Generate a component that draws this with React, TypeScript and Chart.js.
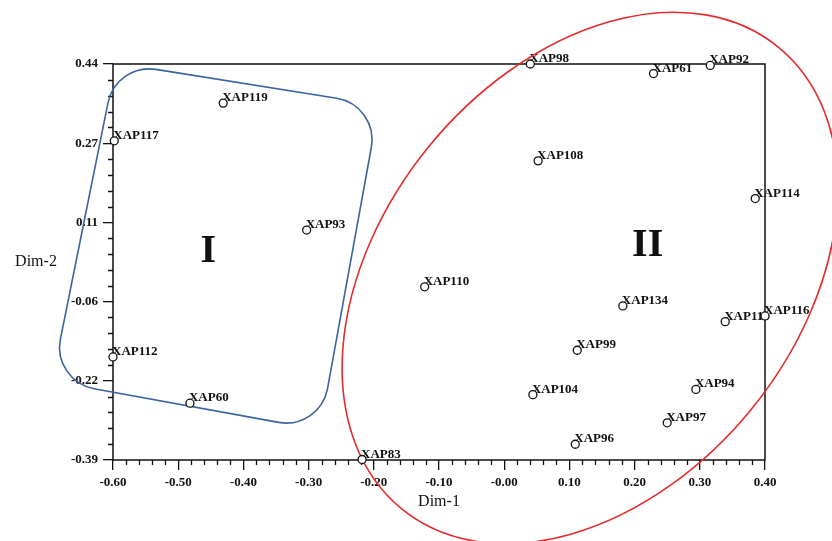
import { useEffect, useRef } from "react";
import { Chart, registerables } from "chart.js";
Chart.register(...registerables);

// ---- data ----
const pointNames = [
  "XAP119", "XAP117", "XAP93", "XAP112", "XAP60",
  "XAP98", "XAP61", "XAP92", "XAP108", "XAP114",
  "XAP110", "XAP134", "XAP115", "XAP116", "XAP99",
  "XAP104", "XAP94", "XAP97", "XAP96", "XAP83",
];
const dim1 = [
  -0.431, -0.598, -0.303, -0.600, -0.482,
  0.040, 0.229, 0.316, 0.052, 0.385,
  -0.122, 0.182, 0.339, 0.400, 0.112,
  0.044, 0.294, 0.250, 0.109, -0.218,
];
const dim2 = [
  0.358, 0.279, 0.092, -0.174, -0.271,
  0.440, 0.420, 0.437, 0.237, 0.158,
  -0.027, -0.067, -0.100, -0.088, -0.160,
  -0.253, -0.242, -0.312, -0.357, -0.389,
];
const xTickValues = [-0.6, -0.5, -0.4, -0.3, -0.2, -0.1, 0, 0.1, 0.2, 0.3, 0.4];
const xTickLabels = ["-0.60", "-0.50", "-0.40", "-0.30", "-0.20", "-0.10", "-0.00", "0.10", "0.20", "0.30", "0.40"];
const yTickValues = [-0.39, -0.224, -0.058, 0.108, 0.274, 0.44];
const yTickLabels = ["-0.39", "-0.22", "-0.06", "0.11", "0.27", "0.44"];
const groupNames = ["I", "II"];
const groupX = [-0.454, 0.22];
const groupY = [0.05, 0.064];

// cluster outlines (annotation geometry in data units)
const clusterIX = [-0.5954, -0.192, -0.2825, -0.6936];
const clusterIY = [0.442, 0.354, -0.327, -0.2244];
const clusterIICenter = [0.1316, -0.0085];
const clusterIIRadii = [0.457, 0.319]; // in x-axis units
const clusterIIAngleDeg = -50.8;

const SERIF = '"Liberation Serif", "Times New Roman", serif';

export default function App() {
  const ref = useRef<HTMLCanvasElement>(null);
  useEffect(() => {
    const canvas = ref.current!;
    const points = dim1.map((x, i) => ({ x, y: dim2[i] }));

    const decor = {
      id: "decor",
      beforeDatasetsDraw(chart: any) {
        const { ctx, chartArea: ca, scales } = chart;
        const x = scales.x, y = scales.y;
        ctx.save();
        // minor ticks
        ctx.strokeStyle = "#111";
        ctx.lineWidth = 1.3;
        ctx.beginPath();
        for (let i = 0; i < xTickValues.length - 1; i++) {
          const a = xTickValues[i], b = xTickValues[i + 1];
          for (let k = 1; k < 5; k++) {
            const px = Math.round(x.getPixelForValue(a + ((b - a) * k) / 5)) + 0.5;
            ctx.moveTo(px, ca.bottom);
            ctx.lineTo(px, ca.bottom + 5);
          }
        }
        for (let i = 0; i < yTickValues.length - 1; i++) {
          const a = yTickValues[i], b = yTickValues[i + 1];
          for (let k = 1; k < 5; k++) {
            const py = Math.round(y.getPixelForValue(a + ((b - a) * k) / 5)) + 0.5;
            ctx.moveTo(ca.left, py);
            ctx.lineTo(ca.left - 5, py);
          }
        }
        ctx.stroke();

        // point labels
        ctx.font = `bold 13px ${SERIF}`;
        ctx.textAlign = "left";
        ctx.textBaseline = "alphabetic";
        pointNames.forEach((name, i) => {
          const px = x.getPixelForValue(dim1[i]);
          const py = y.getPixelForValue(dim2[i]);
          const tx = px - 1;
          const ty = py - 2;
          const w = ctx.measureText(name).width;
          ctx.fillStyle = "#ffffff";
          ctx.fillRect(tx + 3, ty - 9, w - 2, 10);
          ctx.fillStyle = "#111";
          ctx.fillText(name, tx, ty);
        });

        // frame
        ctx.strokeStyle = "#111";
        ctx.lineWidth = 1.5;
        ctx.strokeRect(ca.left, ca.top, ca.right - ca.left, ca.bottom - ca.top);

        // group numerals
        ctx.font = `bold 40px ${SERIF}`;
        ctx.textAlign = "center";
        ctx.textBaseline = "middle";
        ctx.fillStyle = "#111";
        groupNames.forEach((g, i) => {
          ctx.fillText(g, x.getPixelForValue(groupX[i]), y.getPixelForValue(groupY[i]) + 2);
        });

        // y axis title (horizontal)
        ctx.font = `16px ${SERIF}`;
        ctx.fillText("Dim-2", 36, (ca.top + ca.bottom) / 2);

        // cluster I rounded quadrilateral
        const verts = clusterIX.map((vx, i) => [x.getPixelForValue(vx), y.getPixelForValue(clusterIY[i])]);
        const n = verts.length;
        const r = 42;
        ctx.strokeStyle = "#3b64a0";
        ctx.lineWidth = 1.6;
        ctx.beginPath();
        const mid = [(verts[n - 1][0] + verts[0][0]) / 2, (verts[n - 1][1] + verts[0][1]) / 2];
        ctx.moveTo(mid[0], mid[1]);
        for (let i = 0; i < n; i++) {
          const p = verts[i];
          const q = verts[(i + 1) % n];
          ctx.arcTo(p[0], p[1], q[0], q[1], r);
        }
        ctx.closePath();
        ctx.stroke();

        // cluster II ellipse
        const ppu = Math.abs(x.getPixelForValue(1) - x.getPixelForValue(0));
        ctx.strokeStyle = "#e52b2b";
        ctx.lineWidth = 1.6;
        ctx.beginPath();
        ctx.ellipse(
          x.getPixelForValue(clusterIICenter[0]),
          y.getPixelForValue(clusterIICenter[1]),
          clusterIIRadii[0] * ppu,
          clusterIIRadii[1] * ppu,
          (clusterIIAngleDeg * Math.PI) / 180,
          0,
          Math.PI * 2
        );
        ctx.stroke();
        ctx.restore();
      },
    };

    const tickFont = { family: SERIF, size: 13, weight: "bold" as const };
    const chart = new Chart(canvas, {
      type: "scatter",
      data: {
        datasets: [
          {
            data: points,
            pointRadius: 4,
            pointHoverRadius: 4,
            pointBackgroundColor: "#ffffff",
            pointBorderColor: "#111",
            pointBorderWidth: 1.3,
            clip: false as any,
          },
        ],
      },
      options: {
        animation: false,
        responsive: true,
        maintainAspectRatio: false,
        events: [],
        layout: { padding: { left: 0, right: 67, top: 64, bottom: 0 } },
        plugins: { legend: { display: false }, tooltip: { enabled: false } },
        scales: {
          x: {
            type: "linear",
            min: -0.6,
            max: 0.4,
            afterBuildTicks: (s: any) => {
              s.ticks = xTickValues.map((v) => ({ value: v }));
            },
            afterFit: (s: any) => {
              s.height = 81;
            },
            ticks: {
              callback: (_v: any, i: number) => xTickLabels[i],
              font: tickFont,
              color: "#111",
              padding: 5,
              maxRotation: 0,
              autoSkip: false,
            },
            grid: { drawOnChartArea: false, drawTicks: true, tickLength: 10, color: "#111", lineWidth: 1.3 },
            border: { display: false },
            title: {
              display: true,
              text: "Dim-1",
              font: { family: SERIF, size: 16 },
              color: "#111",
              padding: { top: 0, bottom: 30 },
            },
          },
          y: {
            type: "linear",
            min: -0.39,
            max: 0.44,
            afterBuildTicks: (s: any) => {
              s.ticks = yTickValues.map((v) => ({ value: v }));
            },
            afterFit: (s: any) => {
              s.width = 113;
            },
            ticks: {
              callback: (_v: any, i: number) => yTickLabels[i],
              font: tickFont,
              color: "#111",
              padding: 5,
              autoSkip: false,
            },
            grid: { drawOnChartArea: false, drawTicks: true, tickLength: 10, color: "#111", lineWidth: 1.3 },
            border: { display: false },
          },
        },
      },
      plugins: [decor],
    });
    return () => chart.destroy();
  }, []);

  return (
    <div style={{ position: "absolute", left: 0, top: 0, width: 832, height: 541, background: "#fff" }}>
      <canvas ref={ref} />
    </div>
  );
}
